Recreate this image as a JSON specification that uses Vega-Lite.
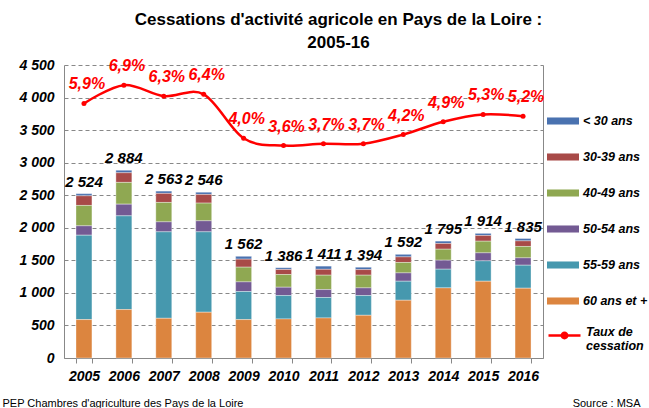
{
  "$schema": "https://vega.github.io/schema/vega-lite/v6.json",
  "width": 479,
  "height": 293,
  "autosize": {"type": "none"},
  "padding": {"left": 64, "top": 65, "right": 106, "bottom": 50},
  "background": "white",
  "title": {
    "text": ["Cessations d'activité agricole en Pays de la Loire :", "2005-16"],
    "font": "Liberation Sans",
    "fontSize": 17,
    "fontWeight": "bold",
    "color": "#000000",
    "lineHeight": 23,
    "anchor": "middle",
    "dx": 35,
    "offset": 6
  },
  "config": {"view": {"stroke": null}, "font": "Liberation Sans"},
  "datasets": {
    "ages": [
      {"year": "2005", "age": "< 30 ans", "n": 33}, {"year": "2005", "age": "30-39 ans", "n": 148}, {"year": "2005", "age": "40-49 ans", "n": 313}, {"year": "2005", "age": "50-54 ans", "n": 144}, {"year": "2005", "age": "55-59 ans", "n": 1296}, {"year": "2005", "age": "60 ans et +", "n": 590},
      {"year": "2006", "age": "< 30 ans", "n": 39}, {"year": "2006", "age": "30-39 ans", "n": 148}, {"year": "2006", "age": "40-49 ans", "n": 334}, {"year": "2006", "age": "50-54 ans", "n": 180}, {"year": "2006", "age": "55-59 ans", "n": 1439}, {"year": "2006", "age": "60 ans et +", "n": 744},
      {"year": "2007", "age": "< 30 ans", "n": 35}, {"year": "2007", "age": "30-39 ans", "n": 139}, {"year": "2007", "age": "40-49 ans", "n": 298}, {"year": "2007", "age": "50-54 ans", "n": 153}, {"year": "2007", "age": "55-59 ans", "n": 1328}, {"year": "2007", "age": "60 ans et +", "n": 610},
      {"year": "2008", "age": "< 30 ans", "n": 34}, {"year": "2008", "age": "30-39 ans", "n": 133}, {"year": "2008", "age": "40-49 ans", "n": 272}, {"year": "2008", "age": "50-54 ans", "n": 169}, {"year": "2008", "age": "55-59 ans", "n": 1235}, {"year": "2008", "age": "60 ans et +", "n": 703},
      {"year": "2009", "age": "< 30 ans", "n": 44}, {"year": "2009", "age": "30-39 ans", "n": 123}, {"year": "2009", "age": "40-49 ans", "n": 226}, {"year": "2009", "age": "50-54 ans", "n": 148}, {"year": "2009", "age": "55-59 ans", "n": 431}, {"year": "2009", "age": "60 ans et +", "n": 590},
      {"year": "2010", "age": "< 30 ans", "n": 27}, {"year": "2010", "age": "30-39 ans", "n": 77}, {"year": "2010", "age": "40-49 ans", "n": 195}, {"year": "2010", "age": "50-54 ans", "n": 128}, {"year": "2010", "age": "55-59 ans", "n": 359}, {"year": "2010", "age": "60 ans et +", "n": 600},
      {"year": "2011", "age": "< 30 ans", "n": 49}, {"year": "2011", "age": "30-39 ans", "n": 90}, {"year": "2011", "age": "40-49 ans", "n": 221}, {"year": "2011", "age": "50-54 ans", "n": 122}, {"year": "2011", "age": "55-59 ans", "n": 314}, {"year": "2011", "age": "60 ans et +", "n": 615},
      {"year": "2012", "age": "< 30 ans", "n": 36}, {"year": "2012", "age": "30-39 ans", "n": 86}, {"year": "2012", "age": "40-49 ans", "n": 195}, {"year": "2012", "age": "50-54 ans", "n": 118}, {"year": "2012", "age": "55-59 ans", "n": 303}, {"year": "2012", "age": "60 ans et +", "n": 656},
      {"year": "2013", "age": "< 30 ans", "n": 39}, {"year": "2013", "age": "30-39 ans", "n": 86}, {"year": "2013", "age": "40-49 ans", "n": 160}, {"year": "2013", "age": "50-54 ans", "n": 128}, {"year": "2013", "age": "55-59 ans", "n": 292}, {"year": "2013", "age": "60 ans et +", "n": 887},
      {"year": "2014", "age": "< 30 ans", "n": 36}, {"year": "2014", "age": "30-39 ans", "n": 88}, {"year": "2014", "age": "40-49 ans", "n": 169}, {"year": "2014", "age": "50-54 ans", "n": 138}, {"year": "2014", "age": "55-59 ans", "n": 287}, {"year": "2014", "age": "60 ans et +", "n": 1077},
      {"year": "2015", "age": "< 30 ans", "n": 32}, {"year": "2015", "age": "30-39 ans", "n": 88}, {"year": "2015", "age": "40-49 ans", "n": 179}, {"year": "2015", "age": "50-54 ans", "n": 123}, {"year": "2015", "age": "55-59 ans", "n": 313}, {"year": "2015", "age": "60 ans et +", "n": 1179},
      {"year": "2016", "age": "< 30 ans", "n": 36}, {"year": "2016", "age": "30-39 ans", "n": 86}, {"year": "2016", "age": "40-49 ans", "n": 175}, {"year": "2016", "age": "50-54 ans", "n": 113}, {"year": "2016", "age": "55-59 ans", "n": 353}, {"year": "2016", "age": "60 ans et +", "n": 1072}
    ],
    "totals": [
      {"year": "2005", "total": 2524, "rate": 5.9},
      {"year": "2006", "total": 2884, "rate": 6.9},
      {"year": "2007", "total": 2563, "rate": 6.3},
      {"year": "2008", "total": 2546, "rate": 6.4},
      {"year": "2009", "total": 1562, "rate": 4.0},
      {"year": "2010", "total": 1386, "rate": 3.6},
      {"year": "2011", "total": 1411, "rate": 3.7},
      {"year": "2012", "total": 1394, "rate": 3.7},
      {"year": "2013", "total": 1592, "rate": 4.2},
      {"year": "2014", "total": 1795, "rate": 4.9},
      {"year": "2015", "total": 1914, "rate": 5.3},
      {"year": "2016", "total": 1835, "rate": 5.2}
    ]
  },
  "encoding": {
    "x": {
      "field": "year",
      "type": "nominal",
      "sort": null,
      "scale": {"paddingInner": 0.6, "paddingOuter": 0.3},
      "axis": {
        "title": "PEP Chambres d'agriculture des Pays de la Loire",
        "titleFont": "Liberation Sans",
        "titleFontSize": 11,
        "titleFontWeight": "normal",
        "titleColor": "#000000",
        "titleAlign": "left",
        "titleBaseline": "middle",
        "titleX": -62,
        "titleY": 45,
        "labelAngle": 0,
        "labelFont": "Liberation Sans",
        "labelFontSize": 14,
        "labelFontWeight": "bold",
        "labelFontStyle": "italic",
        "labelColor": "#000000",
        "labelPadding": 6,
        "tickBand": "extent",
        "tickSize": 5,
        "tickColor": "#888888",
        "domainColor": "#888888",
        "grid": false
      }
    }
  },
  "layer": [
    {
      "layer": [
        {
          "data": {"name": "ages"},
          "transform": [
            {"calculate": "indexof(['60 ans et +','55-59 ans','50-54 ans','40-49 ans','30-39 ans','< 30 ans'], datum.age)", "as": "ord"}
          ],
          "mark": {"type": "bar", "stroke": "#ffffff", "strokeWidth": 0.5, "strokeOpacity": 0.7},
          "encoding": {
            "y": {
              "field": "n",
              "type": "quantitative",
              "stack": "zero",
              "scale": {"domain": [0, 4500]},
              "axis": {
                "title": null,
                "values": [0, 500, 1000, 1500, 2000, 2500, 3000, 3500, 4000, 4500],
                "labelOverlap": false,
                "labelExpr": "replace(format(datum.value, ','), ',', ' ')",
                "labelFont": "Liberation Sans",
                "labelFontSize": 14,
                "labelFontWeight": "bold",
                "labelFontStyle": "italic",
                "labelColor": "#000000",
                "labelPadding": 10,
                "ticks": false,
                "domainColor": "#888888",
                "grid": true,
                "gridColor": "#888888",
                "gridDash": [4, 3],
                "gridWidth": 1
              }
            },
            "color": {
              "field": "age",
              "type": "nominal",
              "scale": {
                "domain": ["< 30 ans", "30-39 ans", "40-49 ans", "50-54 ans", "55-59 ans", "60 ans et +"],
                "range": ["#4A72B0", "#A84A48", "#8FA852", "#735A93", "#4698AE", "#DC853F"]
              },
              "legend": {
                "orient": "none",
                "legendX": 483,
                "legendY": 40,
                "title": null,
                "padding": 0,
                "symbolType": "M-1,-0.22H1V0.22H-1Z",
                "symbolSize": 1024,
                "symbolStrokeWidth": 0,
                "labelFont": "Liberation Sans",
                "labelFontSize": 12.5,
                "labelFontWeight": "bold",
                "labelFontStyle": "italic",
                "labelColor": "#000000",
                "labelOffset": 4,
                "rowPadding": 13
              }
            },
            "order": {"field": "ord", "type": "quantitative", "sort": "ascending"}
          }
        },
        {
          "data": {"name": "totals"},
          "transform": [
            {"calculate": "replace(format(datum.total, ','), ',', ' ')", "as": "lbl"}
          ],
          "mark": {"type": "text", "dy": -12, "font": "Liberation Sans", "fontSize": 15, "fontWeight": "bold", "fontStyle": "italic", "color": "#000000"},
          "encoding": {
            "y": {
              "field": "total",
              "type": "quantitative",
              "axis": {
                "title": null,
                "values": [0, 500, 1000, 1500, 2000, 2500, 3000, 3500, 4000, 4500],
                "labelOverlap": false,
                "labelExpr": "replace(format(datum.value, ','), ',', ' ')",
                "labelFont": "Liberation Sans",
                "labelFontSize": 14,
                "labelFontWeight": "bold",
                "labelFontStyle": "italic",
                "labelColor": "#000000",
                "labelPadding": 10,
                "ticks": false,
                "domainColor": "#888888",
                "grid": true,
                "gridColor": "#888888",
                "gridDash": [4, 3],
                "gridWidth": 1
              }
            },
            "text": {"field": "lbl"}
          }
        }
      ]
    },
    {
      "layer": [
        {
          "data": {"name": "totals"},
          "mark": {"type": "line", "interpolate": "cardinal", "strokeWidth": 2.5},
          "encoding": {
            "y": {
              "field": "rate",
              "type": "quantitative",
              "scale": {"domain": [-8, 8]},
              "axis": {
                "orient": "right",
                "labels": false,
                "ticks": false,
                "grid": false,
                "domainColor": "#888888",
                "title": "Source : MSA",
                "titleAngle": 0,
                "titleFont": "Liberation Sans",
                "titleFontSize": 11,
                "titleFontWeight": "normal",
                "titleColor": "#000000",
                "titleAlign": "right",
                "titleBaseline": "middle",
                "titleX": 97,
                "titleY": 338
              }
            },
            "stroke": {
              "datum": "Taux de cessation",
              "type": "nominal",
              "scale": {"range": ["#FF0000"]},
              "legend": {
                "orient": "none",
                "legendX": 483,
                "legendY": 253,
                "title": null,
                "padding": 0,
                "symbolType": "M-1,0H1M-0.17,0A0.17,0.17,0,1,0,0.17,0A0.17,0.17,0,1,0,-0.17,0",
                "symbolSize": 1024,
                "symbolStrokeWidth": 2.5,
                "symbolFillColor": "#FF0000",
                "labelExpr": "['Taux de', 'cessation']",
                "labelBaseline": "alphabetic",
                "labelFont": "Liberation Sans",
                "labelFontSize": 12.5,
                "labelFontWeight": "bold",
                "labelFontStyle": "italic",
                "labelColor": "#000000",
                "labelOffset": 4
              }
            }
          }
        },
        {
          "data": {"name": "totals"},
          "mark": {"type": "point", "filled": true, "size": 25, "color": "#FF0000", "opacity": 1},
          "encoding": {
            "y": {"field": "rate", "type": "quantitative"}
          }
        },
        {
          "data": {"name": "totals"},
          "transform": [
            {"calculate": "replace(format(datum.rate, '.1f'), '.', ',') + '%'", "as": "lbl"}
          ],
          "mark": {"type": "text", "dy": -19, "dx": 3, "font": "Liberation Sans", "fontSize": 16, "fontWeight": "bold", "fontStyle": "italic", "color": "#FF0000"},
          "encoding": {
            "y": {"field": "rate", "type": "quantitative"},
            "text": {"field": "lbl"}
          }
        }
      ]
    }
  ],
  "resolve": {"scale": {"y": "independent"}}
}
